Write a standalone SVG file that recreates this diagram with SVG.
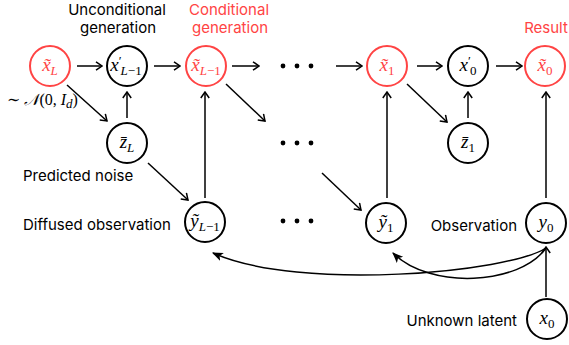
<svg xmlns="http://www.w3.org/2000/svg" width="569" height="345" viewBox="0 0 569 345">
<style>
.n{fill:#fff;stroke:#000;stroke-width:2}
.r{stroke:#f44}
.m{font-family:"Liberation Serif","DejaVu Serif",serif;font-style:italic;font-size:19px}
.u{font-style:normal}
.s{font-size:13px}
.l{font-family:Inter,"Liberation Sans",sans-serif;font-size:15px;fill:#000}
.red{fill:#f44}
.c{fill:none;stroke:#000;stroke-width:1.5}
.d{fill:#000}
</style>
<defs>
<marker id="a" viewBox="0 0 10 10" refX="9" refY="5" markerWidth="10" markerHeight="10" markerUnits="userSpaceOnUse" orient="auto">
<path d="M3,0.8 L9,5 L3,9.2" fill="none" stroke="#000" stroke-width="1.5"/>
</marker>
<marker id="f" viewBox="0 0 10 10" refX="9" refY="5" markerWidth="11" markerHeight="11" markerUnits="userSpaceOnUse" orient="auto">
<path d="M0,1 L10,5 L0,9 L2.5,5 Z" fill="#000"/>
</marker>
</defs>
<g id="labels">
<text class="l" text-anchor="middle"><tspan x="117" y="15">Unconditional</tspan><tspan x="118" y="33">generation</tspan></text>
<text class="l red" text-anchor="middle"><tspan x="229" y="15">Conditional</tspan><tspan x="230" y="33">generation</tspan></text>
<text class="l red" x="546" y="33" text-anchor="middle">Result</text>
<text class="l" x="23" y="181">Predicted noise</text>
<text class="l" x="23" y="230">Diffused observation</text>
<text class="l" x="517" y="231" text-anchor="end">Observation</text>
<text class="l" x="517" y="326" text-anchor="end">Unknown latent</text>
<text class="m" x="7" y="105" style="font-size:16px"><tspan class="u">∼ </tspan>𝒩<tspan class="u">(0, </tspan>I<tspan class="s" dy="3">d</tspan><tspan class="u" dy="-3">)</tspan></text>
</g>
<g id="connectors">
<line class="c" x1="77" y1="66" x2="102" y2="66" marker-end="url(#a)"/>
<line class="c" x1="154" y1="66" x2="180" y2="66" marker-end="url(#a)"/>
<line class="c" x1="232" y1="66" x2="259" y2="66" marker-end="url(#a)"/>
<line class="c" x1="336" y1="66" x2="362" y2="66" marker-end="url(#a)"/>
<line class="c" x1="417" y1="66" x2="442" y2="66" marker-end="url(#a)"/>
<line class="c" x1="496" y1="66" x2="522" y2="66" marker-end="url(#a)"/>
<line class="c" x1="67" y1="85" x2="107" y2="121" marker-end="url(#a)"/>
<line class="c" x1="127" y1="118" x2="127" y2="92" marker-end="url(#a)"/>
<line class="c" x1="226" y1="84" x2="265" y2="121" marker-end="url(#a)"/>
<line class="c" x1="148" y1="163" x2="188" y2="200" marker-end="url(#a)"/>
<line class="c" x1="205" y1="198" x2="205" y2="92" marker-end="url(#a)"/>
<line class="c" x1="322" y1="173" x2="361" y2="210" marker-end="url(#a)"/>
<line class="c" x1="407" y1="84" x2="447" y2="122" marker-end="url(#a)"/>
<line class="c" x1="468" y1="118" x2="468" y2="92" marker-end="url(#a)"/>
<line class="c" x1="387" y1="198" x2="387" y2="92" marker-end="url(#a)"/>
<line class="c" x1="546" y1="198" x2="546" y2="92" marker-end="url(#a)"/>
<line class="c" x1="546" y1="297" x2="546" y2="247" marker-end="url(#a)"/>
<path class="c" d="M546,248 C510,272 300,292 213,253" marker-end="url(#f)"/>
<path class="c" d="M546,248 C520,285 430,290 393,253" marker-end="url(#f)"/>
</g>
<g id="dots">
<circle class="d" cx="283" cy="66" r="2.4"/><circle class="d" cx="297" cy="66" r="2.4"/><circle class="d" cx="311" cy="66" r="2.4"/>
<circle class="d" cx="283" cy="143" r="2.4"/><circle class="d" cx="297" cy="143" r="2.4"/><circle class="d" cx="311" cy="143" r="2.4"/>
<circle class="d" cx="283" cy="221" r="2.4"/><circle class="d" cx="297" cy="221" r="2.4"/><circle class="d" cx="311" cy="221" r="2.4"/>
</g>
<g id="xL"><circle class="n r" cx="50" cy="66" r="20"/><text class="m red" x="50" y="71" text-anchor="middle">x̃<tspan class="s" dy="4">L</tspan></text></g>
<g id="xpL1"><circle class="n" cx="127" cy="66" r="20"/><text class="m" x="126" y="71" text-anchor="middle">x<tspan class="s u" dy="-6">′</tspan><tspan class="s" dx="-1" dy="10">L</tspan><tspan class="s u">−1</tspan></text></g>
<g id="xL1"><circle class="n r" cx="206" cy="66" r="20"/><text class="m red" x="206" y="71" text-anchor="middle">x̃<tspan class="s" dy="4">L</tspan><tspan class="s u">−1</tspan></text></g>
<g id="zL"><circle class="n" cx="127" cy="143" r="20"/><text class="m" x="127" y="148" text-anchor="middle">z̄<tspan class="s" dy="4">L</tspan></text></g>
<g id="yL1"><circle class="n" cx="205" cy="222" r="20"/><text class="m" x="205" y="227" text-anchor="middle">ỹ<tspan class="s" dy="4">L</tspan><tspan class="s u">−1</tspan></text></g>
<g id="x1"><circle class="n r" cx="387" cy="66" r="20"/><text class="m red" x="387" y="71" text-anchor="middle">x̃<tspan class="s u" dy="4">1</tspan></text></g>
<g id="xp0"><circle class="n" cx="468" cy="66" r="20"/><text class="m" x="468" y="71" text-anchor="middle">x<tspan class="s u" dy="-6">′</tspan><tspan class="s u" dx="-1" dy="10">0</tspan></text></g>
<g id="x0t"><circle class="n r" cx="545" cy="66" r="20"/><text class="m red" x="545" y="71" text-anchor="middle">x̃<tspan class="s u" dy="4">0</tspan></text></g>
<g id="z1"><circle class="n" cx="468" cy="143" r="20"/><text class="m" x="468" y="148" text-anchor="middle">z̄<tspan class="s u" dy="4">1</tspan></text></g>
<g id="y1"><circle class="n" cx="386" cy="223" r="20"/><text class="m" x="386" y="228" text-anchor="middle">ỹ<tspan class="s u" dy="4">1</tspan></text></g>
<g id="y0"><circle class="n" cx="546" cy="223" r="20"/><text class="m" x="546" y="228" text-anchor="middle">y<tspan class="s u" dy="4">0</tspan></text></g>
<g id="x0"><circle class="n" cx="547" cy="319" r="20"/><text class="m" x="547" y="324" text-anchor="middle">x<tspan class="s u" dy="4">0</tspan></text></g>
</svg>
